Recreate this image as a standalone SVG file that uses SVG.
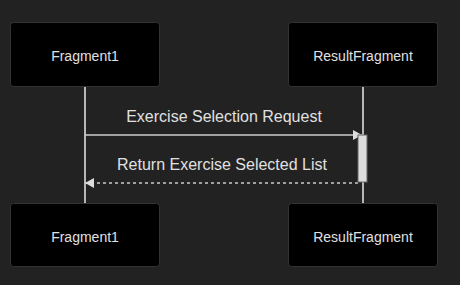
<svg xmlns="http://www.w3.org/2000/svg" width="460" height="285" viewBox="0 0 460 285">
<style>
.actor{fill:#000;stroke:#333;stroke-width:1}
.alabel{font-family:"Liberation Sans",Arial,sans-serif;font-size:14px;fill:#e0e0e0;text-anchor:middle}
.mlabel{font-family:"Liberation Sans",Arial,sans-serif;font-size:16px;fill:#e0e0e0;text-anchor:middle}
.life{stroke:#ddd;stroke-width:1.6}
.msg{stroke:#ccc;stroke-width:1.5;fill:none}
.dash{stroke-dasharray:3,3}
.act{fill:#ddd;stroke:#666;stroke-width:1}
</style>
<defs>
<marker id="arrow" markerWidth="10" markerHeight="10" refX="9" refY="5" orient="auto" markerUnits="userSpaceOnUse">
<path d="M0,0 L9,5 L0,10 z" fill="#ddd"/>
</marker>
</defs>
<rect width="460" height="285" fill="#222"/>
<g id="connectors">
<line class="life" x1="85" y1="87" x2="85" y2="203"/>
<line class="life" x1="363" y1="87" x2="363" y2="203"/>
<line class="msg" x1="85" y1="135" x2="362" y2="135" marker-end="url(#arrow)"/>
<text class="mlabel" x="224" y="122">Exercise Selection Request</text>
<line class="msg dash" x1="358" y1="183" x2="85" y2="183" marker-end="url(#arrow)"/>
<text class="mlabel" x="222" y="170">Return Exercise Selected List</text>
</g>
<g id="activation">
<rect class="act" x="358" y="135" width="9" height="47"/>
</g>
<g id="fragment1-top">
<rect class="actor" x="10.5" y="22.5" width="149" height="64" rx="3"/>
<text class="alabel" x="85" y="61">Fragment1</text>
</g>
<g id="resultfragment-top">
<rect class="actor" x="288.5" y="22.5" width="149" height="64" rx="3"/>
<text class="alabel" x="363" y="61">ResultFragment</text>
</g>
<g id="fragment1-bottom">
<rect class="actor" x="10.5" y="203.5" width="149" height="63" rx="3"/>
<text class="alabel" x="85" y="242">Fragment1</text>
</g>
<g id="resultfragment-bottom">
<rect class="actor" x="288.5" y="203.5" width="149" height="63" rx="3"/>
<text class="alabel" x="363" y="242">ResultFragment</text>
</g>
</svg>
